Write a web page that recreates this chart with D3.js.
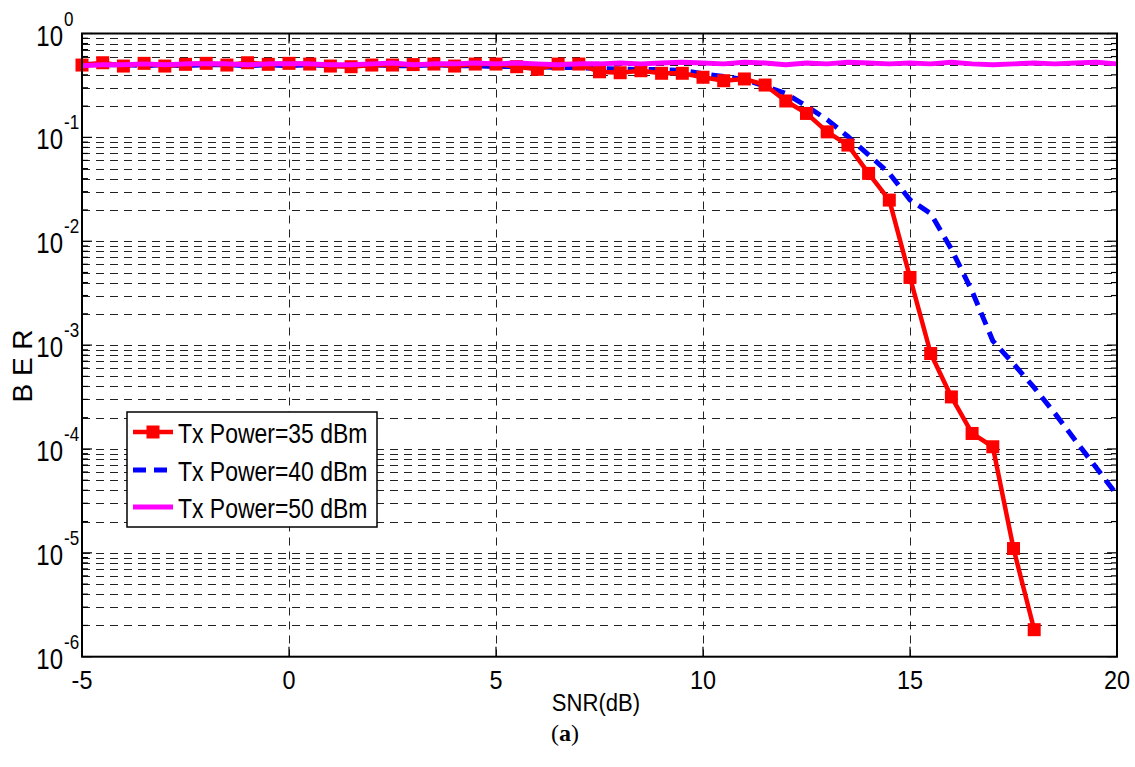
<!DOCTYPE html>
<html>
<head>
<meta charset="utf-8">
<script src="https://cdn.jsdelivr.net/npm/d3@7"></script>
<style>
  body { margin: 0; background: #fff; }
  svg { display: block; font-family: "Liberation Sans", Arial, sans-serif; }
</style>
</head>
<body>
<svg id="chart" width="1135" height="767"></svg>
<script>
// SNR points (dB), every 0.5 dB
const snrAll = [-5, -4.5, -4, -3.5, -3, -2.5, -2, -1.5, -1, -0.5, 0, 0.5, 1, 1.5, 2, 2.5, 3, 3.5, 4, 4.5,
  5, 5.5, 6, 6.5, 7, 7.5, 8, 8.5, 9, 9.5, 10, 10.5, 11, 11.5, 12, 12.5, 13, 13.5, 14, 14.5,
  15, 15.5, 16, 16.5, 17, 17.5, 18, 18.5, 19, 19.5, 20];

// Tx Power = 35 dBm (red, markers) -- runs -5 .. 18
const ber35 = [0.497, 0.523, 0.486, 0.516, 0.486, 0.505, 0.516, 0.497, 0.523, 0.505,
  0.516, 0.508, 0.486, 0.479, 0.497, 0.497, 0.502, 0.508, 0.486, 0.508,
  0.508, 0.479, 0.452, 0.508, 0.508, 0.428, 0.419, 0.438, 0.414, 0.414,
  0.379, 0.351, 0.365, 0.319, 0.224, 0.170, 0.113, 0.0843, 0.045, 0.0249,
  0.00448, 8.3e-4, 3.17e-4, 1.41e-4, 1.05e-4, 1.1e-5, 1.82e-6];

// Tx Power = 40 dBm (blue dashed)
const ber40 = [0.51, 0.50, 0.50, 0.49, 0.50, 0.49, 0.50, 0.50, 0.49, 0.50,
  0.49, 0.50, 0.49, 0.49, 0.50, 0.49, 0.49, 0.50, 0.49, 0.49,
  0.48, 0.48, 0.48, 0.47, 0.47, 0.46, 0.455, 0.45, 0.45, 0.44,
  0.41, 0.385, 0.36, 0.31, 0.265, 0.20, 0.148, 0.102, 0.068, 0.045,
  0.025, 0.0185, 0.0084, 0.0033, 0.0011, 6.6e-4, 3.9e-4, 2.2e-4, 1.2e-4, 6.6e-5, 3.6e-5];

// Tx Power = 50 dBm (magenta)
const ber50 = [0.49, 0.50, 0.50, 0.51, 0.50, 0.51, 0.51, 0.51, 0.50, 0.51,
  0.51, 0.51, 0.50, 0.50, 0.51, 0.52, 0.50, 0.51, 0.51, 0.52,
  0.51, 0.52, 0.51, 0.50, 0.51, 0.51, 0.52, 0.51, 0.52, 0.53,
  0.52, 0.51, 0.53, 0.52, 0.50, 0.52, 0.51, 0.53, 0.52, 0.51,
  0.52, 0.51, 0.53, 0.51, 0.50, 0.51, 0.52, 0.51, 0.52, 0.53, 0.51];

const xTicks = [-5, 0, 5, 10, 15, 20];
const yExponents = [0, -1, -2, -3, -4, -5, -6];
const legendLabels = ["Tx Power=35 dBm", "Tx Power=40 dBm", "Tx Power=50 dBm"];

const plot = { left: 82, right: 1117, top: 33.5, bottom: 656.7 };

const svg = d3.select("#chart");

const x = d3.scaleLinear().domain([-5, 20]).range([plot.left, plot.right]);
const y = d3.scaleLog().domain([1e-6, 1]).range([plot.bottom, plot.top]);

// grid lines (major + minor on y, major on x)
const grid = svg.append("g").attr("stroke", "#222").attr("stroke-width", 1)
  .attr("stroke-dasharray", "8,6").attr("fill", "none");

y.ticks().forEach(v => {
  const yy = Math.round(y(v)) + 0.5;
  if (yy <= plot.top + 1 || yy >= plot.bottom - 1) return;
  grid.append("line")
    .attr("x1", plot.left).attr("x2", plot.right)
    .attr("y1", yy).attr("y2", yy);
});

xTicks.slice(1, -1).forEach(v => {
  const xx = Math.round(x(v)) + 0.5;
  grid.append("line")
    .attr("x1", xx).attr("x2", xx)
    .attr("y1", plot.top).attr("y2", plot.bottom);
});

// tick marks (inside, on all four sides)
const ticks = svg.append("g").attr("stroke", "#000").attr("stroke-width", 1.2);
y.ticks().forEach(v => {
  const yy = y(v);
  const len = Number.isInteger(Math.log10(v)) ? 10 : 6;
  ticks.append("line").attr("x1", plot.left).attr("x2", plot.left + len).attr("y1", yy).attr("y2", yy);
  ticks.append("line").attr("x1", plot.right).attr("x2", plot.right - len).attr("y1", yy).attr("y2", yy);
});
xTicks.forEach(v => {
  const xx = x(v);
  ticks.append("line").attr("x1", xx).attr("x2", xx).attr("y1", plot.bottom).attr("y2", plot.bottom - 10);
  ticks.append("line").attr("x1", xx).attr("x2", xx).attr("y1", plot.top).attr("y2", plot.top + 10);
});

// series
const line = d3.line().x(d => x(d[0])).y(d => y(d[1]));

const pts35 = ber35.map((v, i) => [snrAll[i], v]);
const pts40 = ber40.map((v, i) => [snrAll[i], v]);
const pts50 = ber50.map((v, i) => [snrAll[i], v]);

svg.append("path").datum(pts40)
  .attr("d", line).attr("fill", "none")
  .attr("stroke", "#0000ff").attr("stroke-width", 5)
  .attr("stroke-dasharray", "13,8");

svg.append("path").datum(pts35)
  .attr("d", line).attr("fill", "none")
  .attr("stroke", "#ff0000").attr("stroke-width", 4.5)
  .attr("stroke-linejoin", "round");

svg.selectAll(".mk").data(pts35).enter().append("rect")
  .attr("class", "mk")
  .attr("x", d => x(d[0]) - 6.5).attr("y", d => y(d[1]) - 6.5)
  .attr("width", 13).attr("height", 13)
  .attr("fill", "#ff0000");

svg.append("path").datum(pts50)
  .attr("d", line).attr("fill", "none")
  .attr("stroke", "#ff00ff").attr("stroke-width", 5)
  .attr("stroke-linejoin", "round");

// axes box
svg.append("rect")
  .attr("x", plot.left).attr("y", plot.top)
  .attr("width", plot.right - plot.left).attr("height", plot.bottom - plot.top)
  .attr("fill", "none").attr("stroke", "#000").attr("stroke-width", 2);

// x tick labels
xTicks.forEach(v => {
  svg.append("text")
    .attr("transform", `translate(${x(v)},689) scale(0.9,1)`)
    .attr("text-anchor", "middle")
    .attr("font-size", 26)
    .text(v);
});

// y tick labels 10^n
yExponents.forEach(e => {
  const yy = y(Math.pow(10, e));
  svg.append("text")
    .attr("transform", `translate(63,${yy + 12}) scale(0.8,1)`)
    .attr("text-anchor", "end")
    .attr("font-size", 30)
    .text("10");
  svg.append("text")
    .attr("transform", `translate(64,${yy - 8}) scale(0.85,1)`)
    .attr("text-anchor", "start")
    .attr("font-size", 20)
    .text(e === 0 ? "0" : "-" + Math.abs(e));
});

// axis labels
svg.append("text")
  .attr("transform", "translate(596,711) scale(0.92,1)")
  .attr("text-anchor", "middle")
  .attr("font-size", 24)
  .text("SNR(dB)");

svg.append("text")
  .attr("transform", "translate(32,366) rotate(-90)")
  .attr("text-anchor", "middle")
  .attr("font-size", 28)
  .text("B E R");

// caption
const cap = svg.append("text")
  .attr("x", 565).attr("y", 741)
  .attr("text-anchor", "middle")
  .attr("font-family", "'Liberation Serif', 'DejaVu Serif', serif")
  .attr("font-size", 24);
cap.append("tspan").text("(");
cap.append("tspan").attr("font-weight", "bold").text("a");
cap.append("tspan").text(")");

// legend
const lg = svg.append("g");
lg.append("rect")
  .attr("x", 127).attr("y", 412).attr("width", 250).attr("height", 115)
  .attr("fill", "#fff").attr("stroke", "#000").attr("stroke-width", 1.5);

const legendY = [432, 470, 507];
const legendStyle = [
  { color: "#ff0000", width: 4.5, dash: null, marker: true },
  { color: "#0000ff", width: 5, dash: "13,8", marker: false },
  { color: "#ff00ff", width: 5, dash: null, marker: false }
];

legendLabels.forEach((label, i) => {
  const s = legendStyle[i];
  const ly = legendY[i];
  const l = lg.append("line")
    .attr("x1", 133).attr("x2", 173).attr("y1", ly).attr("y2", ly)
    .attr("stroke", s.color).attr("stroke-width", s.width);
  if (s.dash) l.attr("stroke-dasharray", s.dash);
  if (s.marker) {
    lg.append("rect").attr("x", 146.5).attr("y", ly - 6.5).attr("width", 13).attr("height", 13)
      .attr("fill", s.color);
  }
  lg.append("text")
    .attr("transform", `translate(178,${ly + 11}) scale(0.82,1)`)
    .attr("font-size", 28)
    .text(label);
});
</script>
</body>
</html>
